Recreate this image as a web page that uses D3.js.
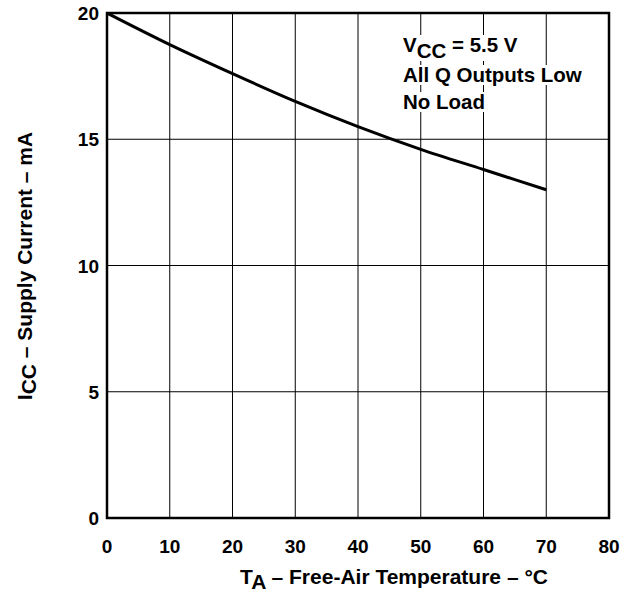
<!DOCTYPE html>
<html><head><meta charset="utf-8">
<script src="https://cdn.jsdelivr.net/npm/d3@7"></script>
<style>body{margin:0;background:#fff}svg{display:block}text{font-family:"Liberation Sans",Arial,sans-serif;font-weight:bold}</style>
</head><body>
<svg id="c" width="626" height="602"></svg>
<script>
const temps = [0, 10, 20, 30, 40, 50, 60, 70];
const icc = [20.0, 18.75, 17.6, 16.5, 15.5, 14.6, 13.8, 13.0];
const xTicks = [0, 10, 20, 30, 40, 50, 60, 70, 80];
const yTicks = [0, 5, 10, 15, 20];
const notes = ["All Q Outputs Low", "No Load"];

const svg = d3.select("#c");
const L = 107, R = 609, T = 13, B = 518;
const x = d3.scaleLinear().domain([0, 80]).range([L, R]);
const y = d3.scaleLinear().domain([0, 20]).range([B, T]);

const g = svg.append("g");
g.selectAll(".vg").data(xTicks).join("line")
  .attr("x1", d => x(d)).attr("x2", d => x(d)).attr("y1", T).attr("y2", B)
  .attr("stroke", "#000").attr("stroke-width", 1);
g.selectAll(".hg").data(yTicks).join("line")
  .attr("y1", d => y(d)).attr("y2", d => y(d)).attr("x1", L).attr("x2", R)
  .attr("stroke", "#000").attr("stroke-width", 1);

// annotation with white background
const ann = svg.append("g");
const lines = [{t: "VCC = 5.5 V", y: 52}, {t: notes[0], y: 82}, {t: notes[1], y: 109}];
lines.forEach((ln, i) => {
  const txt = ann.append("text").attr("x", 403).attr("y", ln.y).attr("font-size", 20.5);
  if (i === 0) {
    txt.append("tspan").text("V");
    txt.append("tspan").attr("dy", 6).text("CC");
    txt.append("tspan").attr("dy", -6).text(" = 5.5 V");
  } else txt.text(ln.t);
  const bb = txt.node().getBBox();
  ann.insert("rect", "text").attr("x", bb.x - 1).attr("y", bb.y + 2).attr("width", bb.width + 2).attr("height", bb.height - 3).attr("fill", "#fff");
});

svg.append("rect").attr("x", L).attr("y", T).attr("width", R - L).attr("height", B - T)
  .attr("fill", "none").attr("stroke", "#000").attr("stroke-width", 2.5);

const line = d3.line().x((d, i) => x(temps[i])).y(d => y(d)).curve(d3.curveMonotoneX);
svg.append("path").datum(icc).attr("d", line).attr("fill", "none").attr("stroke", "#000").attr("stroke-width", 3);

svg.selectAll(".xl").data(xTicks).join("text")
  .attr("x", d => x(d)).attr("y", 553).attr("text-anchor", "middle").attr("font-size", 19).text(d => d);
svg.selectAll(".yl").data(yTicks).join("text")
  .attr("x", 99).attr("y", d => y(d) + 7).attr("text-anchor", "end").attr("font-size", 19).text(d => d);

const xt = svg.append("text").attr("x", 394).attr("y", 584).attr("text-anchor", "middle").attr("font-size", 21);
xt.append("tspan").text("T");
xt.append("tspan").attr("dy", 5).text("A");
xt.append("tspan").attr("dy", -5).text(" – Free-Air Temperature – °C");

const yt = svg.append("text").attr("transform", "translate(32,266) rotate(-90)").attr("text-anchor", "middle").attr("font-size", 21);
yt.append("tspan").text("I");
yt.append("tspan").attr("dy", 4).text("CC");
yt.append("tspan").attr("dy", -4).text("  – Supply Current – mA");
</script>
</body></html>
